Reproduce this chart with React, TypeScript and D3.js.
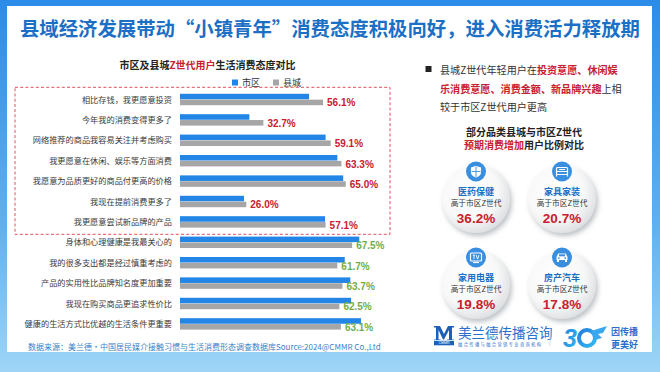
import React from "react";
import * as d3 from "d3";

const categories = [
  "相比存钱，我更愿意投资",
  "今年我的消费变得更多了",
  "网络推荐的商品我容易关注并考虑购买",
  "我更愿意在休闲、娱乐等方面消费",
  "我愿意为品质更好的商品付更高的价格",
  "我现在提前消费更多了",
  "我更愿意尝试新品牌的产品",
  "身体和心理健康是我最关心的",
  "我的很多支出都是经过慎重考虑的",
  "产品的实用性比品牌知名度更加重要",
  "我现在购买商品更追求性价比",
  "健康的生活方式比优越的生活条件更重要",
];
const cityValues = [50.6, 27.2, 57.1, 61.7, 64.0, 25.1, 56.9, 70.3, 64.6, 66.8, 67.1, 71.0];
const countyValues = [56.1, 32.7, 59.1, 63.3, 65.0, 26.0, 57.1, 67.5, 61.7, 63.7, 62.5, 63.1];
const highlightCount = 7;
const seriesNames = ["市区", "县城"];

const circleNames = ["医药保健", "家具家装", "家用电器", "房产汽车"];
const circleValues = ["36.2%", "20.7%", "19.8%", "17.8%"];

const FONT = "'Noto Sans CJK SC', 'Noto Sans', sans-serif";
const BLUE = "#2386e6";
const GRAY = "#a6a6a6";
const RED = "#c8202e";
const GREEN = "#72ad47";

const Icon = ({ i }: { i: number }) => {
  if (i === 0)
    return (
      <g fill="none" stroke="#fff" strokeWidth={1.2}>
        <path d="M0,-5 L4.5,-3.5 L4.5,0 C4.5,3 2,4.8 0,5.5 C-2,4.8 -4.5,3 -4.5,0 L-4.5,-3.5 Z" fill="#fff" />
        <path d="M0,-5 L0,5.5 M-4.5,0 L4.5,0" stroke="#3a8ee0" strokeWidth={0.9} />
      </g>
    );
  if (i === 1)
    return (
      <g fill="none" stroke="#fff" strokeWidth={1.2}>
        <rect x={-5.5} y={-4} width={11} height={7} rx={1} />
        <path d="M-5.5,0 L5.5,0 M-5.5,3 L-5.5,5 M5.5,3 L5.5,5 M-3,-2 L3,-2" />
      </g>
    );
  if (i === 2)
    return (
      <g>
        <rect x={-5.5} y={-4.5} width={11} height={8} rx={1} fill="none" stroke="#fff" strokeWidth={1.2} />
        <path d="M-3.2,-2.4 L-0.8,-2.4 M-2,-2.4 L-2,1.6 M0.2,-2.4 L1.6,1.6 L3,-2.4" fill="none" stroke="#fff" strokeWidth={0.9} />
        <path d="M-3,5 L3,5" stroke="#fff" strokeWidth={1.2} />
      </g>
    );
  return (
    <g fill="#fff">
      <path d="M-5.5,2.5 L-5.5,-0.5 L-3.8,-4 L3.8,-4 L5.5,-0.5 L5.5,2.5 Z" />
      <rect x={-5} y={2} width={2} height={2.5} />
      <rect x={3} y={2} width={2} height={2.5} />
      <circle cx={-3.2} cy={0.6} r={0.9} fill="#3a8ee0" />
      <circle cx={3.2} cy={0.6} r={0.9} fill="#3a8ee0" />
      <rect x={-3} y={-3.2} width={6} height={2} fill="#3a8ee0" />
    </g>
  );
};

export default function App() {
  const width = 660;
  const height = 372;

  const x = d3.scaleLinear().domain([0, 100]).range([180, 435]);
  const y = d3.scaleBand<string>().domain(categories).range([89.3, 334.1]).paddingInner(0.44).paddingOuter(0.22);
  const sub = d3.scaleBand<string>().domain(seriesNames).range([0, y.bandwidth()]).paddingInner(0.05);

  const circleX = d3.scalePoint<number>().domain([0, 1]).range([476, 562]);
  const circleY = d3.scalePoint<number>().domain([0, 1]).range([199, 285]);

  return (
    <div style={{ width, height }}>
      <style>{`body{margin:0}`}</style>
      <svg width={width} height={height} fontFamily={FONT}>
        <defs>
          <linearGradient id="frame" x1="0" y1="0" x2="0" y2="1">
            <stop offset="0" stopColor="#2b8ce8" />
            <stop offset="0.6" stopColor="#5fb0ef" />
            <stop offset="1" stopColor="#9ed5f7" />
          </linearGradient>
          <radialGradient id="ball" cx="0.4" cy="0.38" r="0.68">
            <stop offset="0" stopColor="#ffffff" />
            <stop offset="0.62" stopColor="#f8f8f8" />
            <stop offset="1" stopColor="#d9dcdf" />
          </radialGradient>
          <filter id="shadow" x="-30%" y="-30%" width="160%" height="160%">
            <feDropShadow dx="2" dy="3" stdDeviation="2.5" floodColor="#7d848c" floodOpacity="0.5" />
          </filter>
          <linearGradient id="logo30" x1="0" y1="0" x2="1" y2="1">
            <stop offset="0" stopColor="#1f7fe0" />
            <stop offset="1" stopColor="#35b8f0" />
          </linearGradient>
        </defs>

        <rect width={width} height={height} fill="url(#frame)" />
        <rect x={7} y={6} width={645} height={346} fill="#fff" />

        <text x={20} y={36} fontSize={19.5} fontWeight={700} fill="#1b6fc4" textLength={620} lengthAdjust="spacingAndGlyphs">
          县域经济发展带动“小镇青年”消费态度积极向好，进入消费活力释放期
        </text>

        {/* chart title */}
        <text x={207.5} y={68.5} fontSize={10} fontWeight={700} fill="#222" textAnchor="middle">
          市区及县城<tspan fill={RED}>Z世代用户</tspan>生活消费态度对比
        </text>

        {/* legend */}
        {seriesNames.map((s, i) => (
          <g key={s} transform={`translate(${232 + i * 41},${79.5})`}>
            <rect width={6} height={6} fill={i === 0 ? BLUE : GRAY} />
            <text x={10} y={6.5} fontSize={9} fill="#333">{s}</text>
          </g>
        ))}

        <rect x={15} y={87.3} width={375} height={147} fill="none" stroke="#e0505c" strokeWidth={1} strokeDasharray="3,2.2" />

        {categories.map((c, i) => {
          const y0 = y(c) as number;
          const cy = y0 + y.bandwidth() / 2;
          const gy = y0 + (sub("县城") as number);
          return (
            <g key={c}>
              <text x={172} y={cy + 3} fontSize={8.2} fill="#3a3a3a" textAnchor="end">{c}</text>
              <rect x={x(0)} y={y0 + (sub("市区") as number)} width={x(cityValues[i]) - x(0)} height={sub.bandwidth()} fill={BLUE} />
              <rect x={x(0)} y={gy} width={x(countyValues[i]) - x(0)} height={sub.bandwidth()} fill={GRAY} />
              <text
                x={x(countyValues[i]) + 4}
                y={gy + sub.bandwidth() / 2 + 4}
                fontSize={10}
                fontWeight={700}
                fontFamily="'Liberation Sans', Arial, sans-serif"
                fill={i < highlightCount ? RED : GREEN}
              >
                {countyValues[i].toFixed(1)}%
              </text>
            </g>
          );
        })}

        {/* right panel text */}
        <rect x={425.5} y={66} width={6} height={6} fill="#222" />
        <g fontSize={10.1} fill="#333">
          <text x={440} y={73.5}>
            县城Z世代年轻用户在<tspan fill={RED} fontWeight={700}>投资意愿、休闲娱</tspan>
          </text>
          <text x={440} y={92.5}>
            <tspan fill={RED} fontWeight={700}>乐消费意愿、消费金额、新品牌兴趣</tspan>上相
          </text>
          <text x={440} y={110.5}>较于市区Z世代用户更高</text>
        </g>
        <g fontSize={10} fontWeight={700} textAnchor="middle" fill="#222">
          <text x={524} y={135.5}>部分品类县城与市区Z世代</text>
          <text x={524} y={149}>
            <tspan fill={RED}>预期消费增加</tspan>用户比例对比
          </text>
        </g>

        {circleNames.map((n, i) => {
          const cx = circleX(i % 2) as number;
          const cy = circleY(Math.floor(i / 2)) as number;
          return (
            <g key={n} transform={`translate(${cx},${cy})`}>
              <circle r={34} fill="url(#ball)" filter="url(#shadow)" />
              <circle cy={-27.5} r={10} fill="#3a8ee0" />
              <g transform="translate(0,-27.5)">
                <Icon i={i} />
              </g>
              <text y={-4} textAnchor="middle" fontSize={9} fontWeight={700} fill="#1a6fc8">{n}</text>
              <text y={7} textAnchor="middle" fontSize={7.7} fill="#333">高于市区Z世代</text>
              <text y={24} textAnchor="middle" fontSize={13.5} fontWeight={700} fill={RED} fontFamily="'Liberation Sans', Arial, sans-serif">
                {circleValues[i]}
              </text>
            </g>
          );
        })}

        {/* logos */}
        <path d="M434,339.5 L436,339.5 L436,327.5 L434,327.5 L434,326 L440,326 L444,334 L448,326 L454,326 L454,327.5 L452,327.5 L452,339.5 L454,339.5 L454,340 L447,340 L447,339.5 L449,339.5 L449,330 L444,339.5 L443,339.5 L438.5,330 L438.5,339.5 L440.5,339.5 L440.5,340 L434,340 Z" fill="#1e5fb8" />
        <rect x={434} y={340.8} width={20} height={4.5} fill="#1e5fb8" />
        <text x={444} y={344.4} fontSize={3.6} fill="#fff" textAnchor="middle" fontFamily="Arial, sans-serif">CMMR</text>
        <text x={458} y={337.5} fontSize={13.5} fill="#2a6fcc">美兰德传播咨询</text>
        <text x={458} y={345.8} fontSize={4.2} fill="#2a6fcc" textLength={83}>融合传播与融合营销专业咨询机构</text>
        <line x1={550} x2={550} y1={327} y2={346} stroke="#d0d4d8" strokeWidth={0.8} />
        <text x={563} y={347} fontSize={25} fontWeight={700} fontStyle="italic" fill="url(#logo30)" fontFamily="'Liberation Sans', Arial, sans-serif">3</text>
        <circle cx={587} cy={338} r={8} fill="none" stroke="url(#logo30)" strokeWidth={4} />
        <path d="M591,331 L607,326 L603,333 L598,334 L602,338 L595,340 Z" fill="#3aa8ee" />
        <g fontSize={9} fontWeight={700} fill="#2a6fcc">
          <text x={611} y={335}>因传播</text>
          <text x={611} y={348}>更美好</text>
        </g>

        <text x={28} y={349.5} fontSize={8} fill="#3b7fc9">
          数据来源：美兰德•中国居民媒介接触习惯与生活消费形态调查数据库Source:2024@CMMR Co.,Ltd
        </text>
      </svg>
    </div>
  );
}
